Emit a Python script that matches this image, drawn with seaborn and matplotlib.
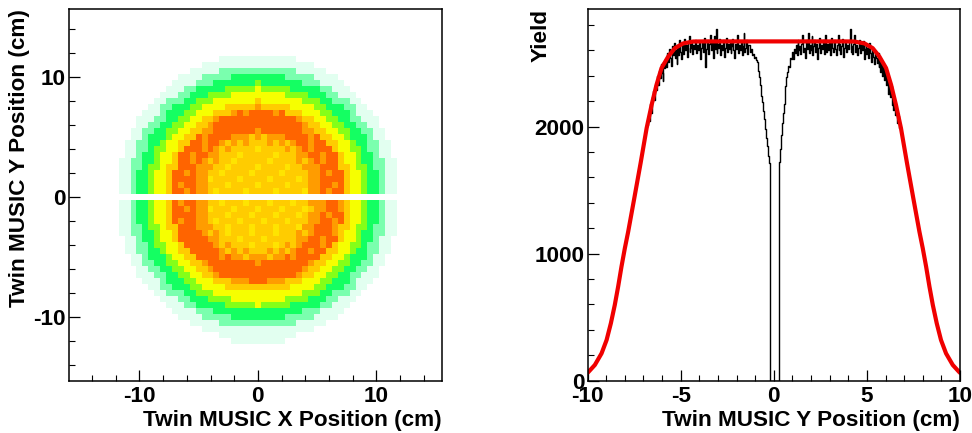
import matplotlib
matplotlib.use("Agg")
import matplotlib.pyplot as plt
import numpy as np
import pandas as pd
import seaborn as sns
from matplotlib.colors import ListedColormap
from matplotlib.ticker import MultipleLocator

# estimated colour level of the XY map, one 0.5 cm cell per digit (0 = empty)
# rows run from y = 12 down to y = 0.5
rows_upper = [
    "0" * 53,
    "00000000000000000000 1111111111111 00000000000000000000",
    "00000000000000000 1111111111111111111 00000000000000000",
    "000000000000000 11111 2222222222222 11111 000000000000000",
    "0000000000000 1111 22222 333333333 22222 1111 0000000000000",
    "000000000000 1111 222 3333333 4 3333333 222 1111 000000000000",
    "00000000000 111 22 33333 44444 5 44444 33333 22 111 00000000000",
    "0000000000 111 22 333 4444 555555555 4444 333 22 111 0000000000",
    "000000000 11 222 33 444 5555555 6 5555555 444 33 222 11 000000000",
    "00000000 11 22 333 44 5555 66666 7 66666 5555 44 333 22 11 00000000",
    "0000000 111 2 333 44 555 666 787888878 666 555 44 333 2 111 0000000",
    "000000 111 22 33 44 55 66 788888888888887 66 55 44 33 22 111 000000",
    "000000 11 22 33 44 55 66 78888888888888887 66 55 44 33 22 11 000000",
    "00000 11 22 33 44 55 66 778888888 7 888888877 66 55 44 33 22 11 00000",
    "00000 11 2 333 4 55 66 878888 777676777 888878 66 55 4 333 2 11 00000",
    "0000 11 22 33 4 55 66 88788 767676 6 676767 88788 66 55 4 33 22 11 0000",
    "0000 11 22 3 44 55 6 88878 767 666696666 767 87888 6 55 44 3 22 11 0000",
    "0000 11 2 33 4 55 6 88788 776 66966666966 677 88788 6 55 4 33 2 11 0000",
    "000 11 22 33 4 55 6 8878 767 6696666696666 767 8788 6 55 4 33 22 11 000",
    "000 11 22 3 44 5 66 8887 77 669666696666966 77 7888 66 5 44 3 22 11 000",
    "000 11 2 33 4 55 6 8878 77 66966669666696666 77 8788 6 55 4 33 2 11 000",
    "000 11 2 33 4 55 6 8888 77 96666966669666696 77 8888 6 55 4 33 2 11 000",
    "000 11 2 33 4 55 6 8788 77 66696666966669666 77 8878 6 55 4 33 2 11 000",
    "000 11 2 33 4 55 6 8878 77 69666696666966669 77 8788 6 55 4 33 2 11 000",
]
row_gap = "0" * 53
# rows from y = -0.5 down to y = -12
rows_lower = [
    "000 11 2 33 4 55 6 8788 77 66966696669666966 77 7887 6 55 4 33 2 11 000",
    "000 11 2 33 4 55 6 8878 77 96669666966696669 67 7887 6 55 4 33 2 11 000",
    "000 11 2 33 4 55 6 8888 77 66696669666966696 77 8788 6 55 4 33 2 11 000",
    "000 11 2 33 4 55 6 8788 77 69666966696669666 77 8878 6 55 4 33 2 11 000",
    "000 11 22 3 44 5 66 8887 77 669666966696669 77 8887 66 5 44 3 22 11 000",
    "000 11 22 33 4 55 6 8888 767 6966696669666 767 8887 6 55 4 33 22 11 000",
    "0000 11 2 33 4 55 6 88888 776 66966696666 677 88788 6 55 4 33 2 11 0000",
    "0000 11 22 3 44 55 6 88888 767 666966696 767 88878 6 55 44 3 22 11 0000",
    "0000 11 22 33 4 55 66 88888 767676 6 676767 88788 66 55 4 33 22 11 0000",
    "00000 11 2 333 4 55 66 888878 776777677 878888 66 55 4 333 2 11 00000",
    "00000 11 22 33 44 55 66 788888888 7 888888887 66 55 44 33 22 11 00000",
    "000000 11 22 33 44 55 66 78888888888888887 66 55 44 33 22 11 000000",
    "000000 111 22 33 44 55 66 788888888888887 66 55 44 33 22 111 000000",
    "0000000 111 2 333 44 555 666 777888777 666 555 44 333 2 111 0000000",
    "00000000 11 22 333 44 5555 66666 6 66666 5555 44 333 22 11 00000000",
    "000000000 11 222 33 444 5555555 5 5555555 444 33 222 11 000000000",
    "0000000000 111 22 333 4444 555555555 4444 333 22 111 0000000000",
    "00000000000 111 22 33333 44444 5 44444 33333 22 111 00000000000",
    "000000000000 1111 222 3333333 3 3333333 222 1111 000000000000",
    "0000000000000 1111 22222 333333333 22222 1111 0000000000000",
    "000000000000000 11111 2222222222222 11111 000000000000000",
    "00000000000000000 1111111111111111111 00000000000000000",
    "00000000000000000000 1111111111111 00000000000000000000",
    "0000000000000000000000 111111111 0000000000000000000000",
]
level_colors = ["#e2fff0", "#7affae", "#14ff62", "#84ff18", "#f6ff00", "#ffcc00", "#ff9c00", "#ff6400", "#ffe400"]

# measured Y profile, 0.05 cm bins from -6.8 to 6.8
yield_left = [
    2010, 2060, 2040, 2130, 2180, 2110, 2230, 2280, 2210, 2330,
    2290, 2400, 2330, 2440, 2380, 2490, 2420, 2360, 2510, 2460,
    2530, 2470, 2580, 2510, 2610, 2540, 2480, 2630, 2560, 2660,
    2540, 2600, 2490, 2640, 2560, 2680, 2590, 2530, 2640, 2570,
    2690, 2600, 2640, 2550, 2660, 2710, 2590, 2620, 2660, 2570,
    2640, 2610, 2680, 2580, 2640, 2600, 2660, 2530, 2620, 2670,
    2590, 2640, 2700, 2470, 2610, 2680, 2570, 2650, 2720, 2600,
    2660, 2540, 2710, 2610, 2770, 2580, 2650, 2620, 2690, 2560,
    2640, 2600, 2680, 2550, 2620, 2700, 2590, 2650, 2610, 2670,
    2580, 2630, 2690, 2600, 2540, 2650, 2610, 2720, 2580, 2640,
    2600, 2670, 2560, 2630, 2740, 2590, 2620, 2680, 2570, 2640,
    2640, 2590, 2610, 2560, 2570, 2540, 2550, 2520, 2510, 2470,
    2440, 2390, 2330, 2240, 2190, 2120, 2060, 1980, 1910, 1850,
    1770, 1710,
]
yield_gap = [0, 0, 0, 0, 0, 0, 0, 0, 0, 0]
yield_right = [
    1720, 1820, 1930, 2030,
    2110, 2180, 2270, 2320, 2390, 2430, 2480, 2470, 2540, 2530,
    2590, 2530, 2610, 2580, 2640, 2560, 2680, 2600, 2630, 2570,
    2650, 2720, 2590, 2620, 2540, 2680, 2610, 2740, 2580, 2640,
    2600, 2710, 2560, 2630, 2680, 2590, 2650, 2530, 2620, 2700,
    2580, 2640, 2610, 2680, 2570, 2630, 2720, 2590, 2650, 2600,
    2660, 2560, 2700, 2620, 2590, 2680, 2610, 2560, 2640, 2720,
    2600, 2650, 2570, 2630, 2690, 2550, 2620, 2660, 2590, 2640,
    2610, 2680, 2770, 2590, 2630, 2570, 2650, 2720, 2590, 2640,
    2560, 2620, 2680, 2580, 2640, 2600, 2670, 2530, 2610, 2650,
    2570, 2620, 2540, 2660, 2580, 2510, 2610, 2550, 2490, 2570,
    2540, 2500, 2580, 2470, 2540, 2430, 2510, 2400, 2480, 2370,
    2430, 2330, 2400, 2260, 2350, 2230, 2320, 2170, 2260, 2130,
    2180, 2090, 2140, 2030, 2080, 1990, 2030,
]

# fit curve
fit_x = [-10, -9.94, -9.61, -9.25, -8.98, -8.75, -8.54, -8.36, -8.18, -8, -7.82, -7.5, -7.15,
         -6.83, -6.56, -6.3, -6.03, -5.67, -5.31, -4.87, -4.33, -3.8, 0, 3.8, 4.33, 4.87, 5.31,
         5.67, 6.03, 6.3, 6.56, 6.83, 7.15, 7.5, 7.82, 8, 8.18, 8.36, 8.54, 8.75, 8.98, 9.25,
         9.61, 9.94, 10]
fit_y = [62, 71, 124, 215, 320, 452, 596, 740, 898, 1042, 1173, 1430, 1715,
         1987, 2171, 2328, 2460, 2551, 2617, 2654, 2669, 2670, 2670, 2670, 2669, 2654, 2617,
         2551, 2460, 2328, 2171, 1987, 1715, 1430, 1173, 1042, 898, 740, 596, 452, 320, 215,
         124, 71, 62]

sns.set_style("ticks")
plt.rcParams["font.family"] = ["Liberation Sans", "DejaVu Sans"]
plt.rcParams["font.weight"] = "bold"
plt.rcParams["axes.unicode_minus"] = False
plt.rcParams["text.color"] = "black"
plt.rcParams["axes.labelcolor"] = "black"
plt.rcParams["xtick.color"] = "black"
plt.rcParams["ytick.color"] = "black"
plt.rcParams["axes.edgecolor"] = "black"

W, H = 972, 433
fig = plt.figure(figsize=(W / 100, H / 100), dpi=100)
ax1 = fig.add_axes([69 / W, 1 - 381 / H, 373 / W, 372 / H])
ax2 = fig.add_axes([587.6 / W, 1 - 380.7 / H, 372.4 / W, 371.7 / H])

# %% XY map
rows = rows_upper + [row_gap] + rows_lower
grid = np.array([[int(c) for c in "".join(r.split())] for r in rows])
x_centres = np.arange(grid.shape[1]) * 0.5 - 13
y_centres = 12 - np.arange(grid.shape[0]) * 0.5
xx, yy = np.meshgrid(x_centres, y_centres)
df_map = pd.DataFrame({"x": xx.ravel(), "y": yy.ravel(), "level": grid.ravel()})
sns.histplot(
    data=df_map,
    x="x",
    y="y",
    weights="level",
    bins=(np.arange(-13.25, 13.3, 0.5), np.arange(-12.25, 12.3, 0.5)),
    cmap=ListedColormap(level_colors),
    vmin=0.5,
    vmax=9.5,
    ax=ax1,
)
ax1.set_xlim(-15.95, 15.55)
ax1.set_ylim(-15.33, 15.67)
ax1.xaxis.set_major_locator(MultipleLocator(10))
ax1.xaxis.set_minor_locator(MultipleLocator(2))
ax1.yaxis.set_major_locator(MultipleLocator(10))
ax1.yaxis.set_minor_locator(MultipleLocator(2))
ax1.set_xlabel("Twin MUSIC X Position (cm)", loc="right", fontsize=16.2, fontweight="bold", labelpad=2.5)
ax1.set_ylabel("Twin MUSIC Y Position (cm)", loc="top", fontsize=16.2, fontweight="bold")
ax1.yaxis.set_label_coords((30 - 69) / 373, 1)

# %% Y profile
trace_y = yield_left + yield_gap + yield_right
trace_x = np.linspace(-6.8, 6.8, len(trace_y))
sns.lineplot(x=trace_x, y=trace_y, color="black", linewidth=1, drawstyle="steps-mid",
             errorbar=None, ax=ax2)
sns.lineplot(x=fit_x, y=fit_y, color="#f00000", linewidth=3, errorbar=None, ax=ax2)
ax2.set_xlim(-10, 10)
ax2.set_ylim(0, 2925)
ax2.xaxis.set_major_locator(MultipleLocator(5))
ax2.xaxis.set_minor_locator(MultipleLocator(1))
ax2.yaxis.set_major_locator(MultipleLocator(1000))
ax2.yaxis.set_minor_locator(MultipleLocator(200))
ax2.set_xlabel("Twin MUSIC Y Position (cm)", loc="right", fontsize=16.2, fontweight="bold", labelpad=2.5)
ax2.set_ylabel("Yield", loc="top", fontsize=16.2, fontweight="bold")
ax2.yaxis.set_label_coords((552 - 587.6) / 372.4, 1)

for ax in (ax1, ax2):
    ax.tick_params(which="major", direction="in", length=8, width=0.9, labelsize=16.2)
    ax.tick_params(which="minor", direction="in", length=4.3, width=0.8)
    ax.tick_params(axis="x", which="major", pad=3.5)
    ax.tick_params(axis="y", which="major", pad=2.5)
    for side in ax.spines:
        ax.spines[side].set_visible(True)
        ax.spines[side].set_linewidth(1.1)
    for lab in ax.get_xticklabels() + ax.get_yticklabels():
        lab.set_fontweight("bold")

fig.savefig("out.png", dpi=100)
